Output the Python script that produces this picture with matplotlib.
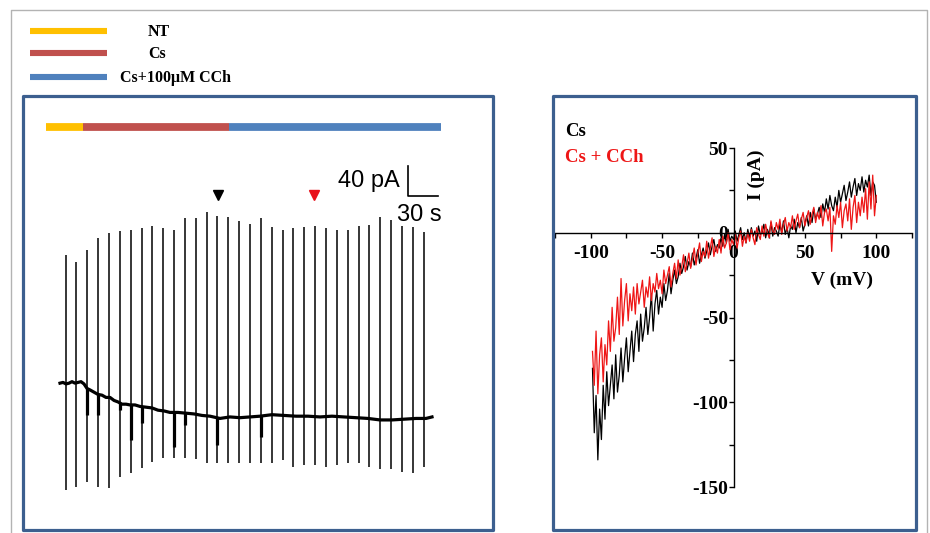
"""Cs / CCh whole-cell figure: holding-current trace (left) and ramp I-V (right)."""

import matplotlib

matplotlib.use("Agg")

import matplotlib.pyplot as plt  # noqa: E402
from matplotlib.lines import Line2D  # noqa: E402
from matplotlib.patches import Rectangle  # noqa: E402
import numpy as np  # noqa: E402

plt.rcParams["axes.unicode_minus"] = False

W, H = 930, 533
SERIF = "Liberation Serif"
SANS = "Liberation Sans"
FRAME = "#3c5f8f"
COND_COLORS = ["#ffc000", "#c0504d", "#4f81bd"]

# --- data -------------------------------------------------------------------
COND_LABELS = ["NT", "Cs", "Cs+100\u03bcM CCh"]
COND_EDGES = [-14, 23, 169, 381]          # s, drug application bar

# ramp-evoked current transients (s, pA)
SPIKE_T = [5.7, 16, 27, 38, 49, 59.7, 70.7, 81.7, 92.3, 103.3, 114, 125,
           135.7, 146.7, 157.3, 168.3, 179, 190, 201, 211.7, 222.7, 233.3,
           244.3, 255, 266, 276.7, 287.7, 298.7, 309.3, 320.3, 331.3, 342.3,
           353.3, 364.3]
SPIKE_TOP = [171, 161, 177, 193, 200, 203, 204, 207, 209, 207, 204, 220,
             220, 228, 223, 221, 216, 212, 220, 208, 204, 207, 208, 209,
             207, 204, 204, 209, 211, 221, 217, 209, 208, 201]
SPIKE_BOTTOM = [-143, -139, -132, -139, -140, -125, -120, -113, -105, -100,
                -100, -100, -101, -107, -107, -107, -107, -107, -107, -107,
                -103, -112, -109, -109, -112, -109, -107, -107, -112, -115,
                -115, -119, -120, -112]

# holding current (s, pA)
BASE_T = [0, 3, 6, 9, 12, 15, 18, 21, 24, 27, 30, 34, 38, 42, 46, 50, 54, 58,
          62, 66, 70, 75, 80, 86, 92, 98, 104, 110, 118, 126, 134, 142, 150,
          160, 170, 180, 190, 200, 212, 224, 236, 248, 260, 272, 284, 296,
          308, 320, 332, 344, 356, 366, 372]
BASE_I = [0, 1, -1, 0, 2, 0, 1, 2, -1, -7, -9, -12, -15, -16, -19, -19, -23,
          -25, -28, -28, -29, -29, -31, -32, -33, -36, -37, -39, -39, -40,
          -41, -43, -44, -47, -45, -46, -45, -44, -42, -43, -44, -44, -45,
          -44, -45, -46, -47, -49, -49, -48, -47, -47, -45]

# inward deflections riding on the holding current (s, pA)
DIP_T = [27, 38, 59.7, 70.7, 81.7, 114, 125, 157.3, 201]
DIP_I = [-43, -43, -36, -76, -53, -85, -56, -83, -72]

MARK_T = [158, 254]
MARK_COLORS = ["black", "#e8111b"]

# ramp I-V (mV, pA)
IV_V = [-98.75, -97.5, -96.25, -95, -93.75, -92.5, -91.25, -90,
        -88.75, -87.5, -86.25, -85, -83.75, -82.5, -81.25, -80,
        -78.75, -77.5, -76.25, -75, -73.75, -72.5, -71.25, -70,
        -68.75, -67.5, -66.25, -65, -63.75, -62.5, -61.25, -60,
        -58.75, -57.5, -56.25, -55, -53.75, -52.5, -51.25, -50,
        -48.75, -47.5, -46.25, -45, -43.75, -42.5, -41.25, -40,
        -38.75, -37.5, -36.25, -35, -33.75, -32.5, -31.25, -30,
        -28.75, -27.5, -26.25, -25, -23.75, -22.5, -21.25, -20,
        -18.75, -17.5, -16.25, -15, -13.75, -12.5, -11.25, -10,
        -8.75, -7.5, -6.25, -5, -3.75, -2.5, -1.25, 0,
        1.25, 2.5, 3.75, 5, 6.25, 7.5, 8.75, 10,
        11.25, 12.5, 13.75, 15, 16.25, 17.5, 18.75, 20,
        21.25, 22.5, 23.75, 25, 26.25, 27.5, 28.75, 30,
        31.25, 32.5, 33.75, 35, 36.25, 37.5, 38.75, 40,
        41.25, 42.5, 43.75, 45, 46.25, 47.5, 48.75, 50,
        51.25, 52.5, 53.75, 55, 56.25, 57.5, 58.75, 60,
        61.25, 62.5, 63.75, 65, 66.25, 67.5, 68.75, 70,
        71.25, 72.5, 73.75, 75, 76.25, 77.5, 78.75, 80,
        81.25, 82.5, 83.75, 85, 86.25, 87.5, 88.75, 90,
        91.25, 92.5, 93.75, 95, 96.25, 97.5, 98.75, 100]
IV_CS = [-80, -118, -96, -134, -104, -122, -90, -110,
         -82, -102, -90, -78, -98, -72, -94, -84,
         -68, -88, -74, -62, -82, -70, -58, -76,
         -60, -52, -70, -48, -64, -56, -44, -60,
         -50, -36, -58, -42, -34, -48, -38, -44,
         -30, -40, -34, -24, -36, -28, -22, -30,
         -26, -18, -24, -20, -14, -22, -17, -20,
         -12, -19, -15, -10, -18, -13, -9, -15,
         -11, -6, -13, -8, -4, -11, -7, -9,
         -3, -8, -1, -6, 2, -5, -2, -4,
         1, -5, -1, 3, -4, 0, -6, 2,
         -3, 3, -2, 1, -5, 4, -1, 0,
         5, -3, 2, -1, 6, -2, 3, 1,
         -2, 5, 0, 7, -1, 3, -3, 4,
         2, 8, 0, 6, 3, 9, 1, 5,
         10, 4, 12, 6, 14, 8, 11, 15,
         9, 17, 12, 20, 14, 22, 16, 13,
         21, 15, 25, 18, 23, 28, 19, 24,
         30, 21, 27, 32, 22, 29, 25, 33,
         24, 31, 27, 34, 22, 30, 28, 18]
IV_CCH = [-70, -90, -58, -95, -72, -62, -88, -66,
          -78, -52, -70, -44, -64, -56, -38, -60,
          -27, -55, -40, -30, -52, -36, -46, -32,
          -48, -30, -42, -35, -28, -44, -32, -38,
          -26, -40, -30, -35, -24, -33, -28, -36,
          -22, -30, -25, -20, -32, -24, -18, -27,
          -16, -25, -20, -13, -23, -18, -12, -21,
          -15, -9, -19, -12, -6, -17, -11, -14,
          -5, -15, -9, -3, -14, -8, -12, -4,
          -12, -2, -9, -6, 0, -10, -4, -7,
          -1, -9, -3, 1, -8, -2, -6, 0,
          -5, 2, -3, -7, 3, -1, -4, 4,
          -2, 5, 0, -3, 7, 1, -1, 6,
          2, 8, -1, 5, 9, 1, 6, 3,
          10, 2, 7, 11, 3, 8, 12, 4,
          9, 13, 5, 11, 15, 6, 12, 8,
          16, 4, 12, 14, 7, 15, -11, 10,
          5, 16, 9, 18, 3, 13, 17, 7,
          20, 2, 15, 22, 6, 18, 10, 21,
          12, 26, 8, 30, 14, 34, 10, 22]


def fx(px):
    return px / W


def fy(py):
    return 1 - py / H


fig = plt.figure(figsize=(W / 100, H / 100), dpi=100)

# outer frame (open at the bottom)
fig.add_artist(Line2D([fx(11), fx(11), fx(927), fx(927)],
                      [fy(540), fy(10), fy(10), fy(540)],
                      transform=fig.transFigure, color="#b3b3b3", lw=1))

# condition legend
for y, lab, col, x0 in zip([31, 53, 77], COND_LABELS, COND_COLORS, [148, 148, 120]):
    fig.add_artist(Line2D([fx(30), fx(107)], [fy(y), fy(y)],
                          transform=fig.transFigure, color=col, lw=4.4,
                          solid_capstyle="butt"))
    fig.text(fx(x0), fy(y + 1), lab, family=SERIF, weight="bold",
             fontsize=11.5, va="center", ha="left")

# panel frames
for x0, x1 in [(23, 493), (553, 916)]:
    fig.add_artist(Rectangle((fx(x0), fy(530)), fx(x1) - fx(x0), fy(96) - fy(530),
                             transform=fig.transFigure, fill=False,
                             edgecolor=FRAME, lw=2.3, joinstyle="round"))

# --- left: holding current ----------------------------------------------------
ax1 = fig.add_axes([fx(25), fy(528), fx(491) - fx(25), fy(98) - fy(528)])
ax1.set_xlim(-35, 431)
ax1.set_ylim(-193, 380)
ax1.axis("off")

ax1.vlines(SPIKE_T, SPIKE_BOTTOM, SPIKE_TOP, color="black", lw=1.1)
ax1.plot(BASE_T, BASE_I, color="black", lw=2.3)
dip_start = np.interp(DIP_T, BASE_T, BASE_I)
ax1.vlines(DIP_T, dip_start, DIP_I, color="black", lw=2.3)

# application bar
for i, col in enumerate(COND_COLORS):
    ax1.plot(COND_EDGES[i:i + 2], [342, 342], color=col, lw=5.6,
             solid_capstyle="butt")

for t, col in zip(MARK_T, MARK_COLORS):
    ax1.plot(t, 251, marker="v", color=col, markersize=7, ls="none")

# scale bar: 40 pA / 30 s
ax1.plot([348, 348, 378], [289, 249, 249], color="black", lw=1.2)
ax1.text(340, 270, "40 pA", family=SANS, fontsize=17, ha="right", va="center")
ax1.text(337, 224, "30 s", family=SANS, fontsize=17, ha="left", va="center")

# --- right: ramp I-V ----------------------------------------------------------
ax2 = fig.add_axes([fx(555), fy(487), fx(912) - fx(555), fy(148) - fy(487)])
ax2.set_xlim(-125, 125)
ax2.set_ylim(-150, 50)
ax2.patch.set_alpha(0)

ax2.plot(IV_V, IV_CS, color="black", lw=0.9)
ax2.plot(IV_V, IV_CCH, color="#ee1616", lw=0.9)

for side in ("top", "right"):
    ax2.spines[side].set_visible(False)
for side in ("left", "bottom"):
    ax2.spines[side].set_position(("data", 0))
    ax2.spines[side].set_linewidth(1.0)
ax2.set_xticks([-100, -50, 0, 50, 100])
ax2.set_xticks([-125, -75, -25, 25, 75, 125], minor=True)
ax2.set_yticks([-150, -100, -50, 0, 50])
ax2.set_yticks([-125, -75, -25, 25], minor=True)
ax2.tick_params(which="both", direction="out", length=3.5, width=1.0)
ax2.tick_params(axis="x", pad=5)
ax2.tick_params(axis="y", pad=0.5)
for lab in ax2.get_xticklabels() + ax2.get_yticklabels():
    lab.set_family(SERIF)
    lab.set_weight("bold")
    lab.set_fontsize(14)

ax2.text(16, 34, "I (pA)", rotation=90, family=SERIF, weight="bold",
         fontsize=14, ha="center", va="center")
ax2.text(76, -28, "V (mV)", family=SERIF, weight="bold", fontsize=14,
         ha="center", va="center")

fig.text(fx(565), fy(132), "Cs", family=SERIF, weight="bold", fontsize=13.5,
         color="black", va="center")
fig.text(fx(565), fy(157), "Cs + CCh", family=SERIF, weight="bold",
         fontsize=13.5, color="#ee1616", va="center")

fig.savefig("out.png", dpi=100)
